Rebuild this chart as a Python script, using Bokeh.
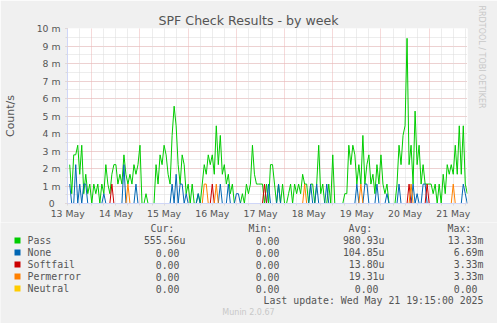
from bokeh.plotting import figure
from bokeh.models import Range1d, FixedTicker, Grid, Title
from bokeh.layouts import column
from bokeh.core.properties import value
from bokeh.embed import file_html
from bokeh.resources import INLINE

# ---------------- data (values in milli-counts per second) ----------------
# hours since 13 May 00:00
hours = list(range(13, 212))

pass_vals = [
    2.22, 0.56, 2.78, 2.78, 3.33, 1.67, 3.33, 0.56, 1.67, 0.56, 1.11, 0,
    1.11, 0.56, 1.11, 0, 1.11, 0.56, 2.22, 1.11, 0.56, 1.67, 2.22, 2.22,
    1.11, 1.67, 1.11, 2.78, 1.67, 1.11, 1.67, 1.11, 2.22, 1.67, 2.22, 3.33,
    0, 0, 0.56, 0, 0, 0, 0, 2.22, 1.11, 2.78, 2.22, 3.33,
    2.78, 1.67, 1.11, 3.89, 5.56, 4.44, 2.22, 1.11, 2.78, 2.22, 0.56, 1.11,
    0, 1.11, 0, 0, 0.56, 0, 1.11, 2.22, 1.67, 2.78, 2.22, 2.78,
    1.67, 4.44, 2.22, 3.89, 1.67, 2.22, 1.11, 1.67, 0.56, 1.11, 0, 0,
    0, 0, 0.56, 0, 1.11, 0.56, 1.11,
    3.33, 1.67, 1.11, 1.11, 1.11, 1.11, 0, 1.11, 0, 2.22, 2.22, 1.11,
    0, 1.11, 0, 1.11, 0, 0, 0.56, 1.11, 0, 1.11, 0.56, 1.11,
    0.56, 1.67, 1.11, 1.11, 0, 1.11, 1.11, 0, 1.11, 3.33, 0.56, 1.11,
    0, 0, 1.11, 0, 2.78, 0, 0, 0, 0, 0, 0.56, 0.56,
    3.33, 2.22, 3.33, 2.78, 1.11, 2.22, 1.11, 3.89, 1.11, 2.22, 2.78, 1.11,
    1.67, 0.56, 2.22, 1.11, 2.78, 1.11, 0.56, 1.11, 0, 0, 0, 0,
    1.11, 3.33, 2.22, 3.89, 4.44, 9.44, 2.22, 3.33, 1.11, 5.28, 2.22, 3.33,
    1.11, 2.22, 1.11, 1.11, 1.11, 1.11, 0.56, 1.11, 0, 1.11, 0, 1.67,
    0.56, 2.22, 1.67, 2.22, 1.67, 3.33, 1.67, 4.44, 1.67, 4.44, 1.11, 0.56,
]

none_hours = [13, 16, 18, 20, 21, 30, 40, 46, 64, 66, 68, 69, 71, 77, 88, 92,
              96, 97, 112, 117, 133, 136, 141, 156, 160, 161, 166, 171, 177,
              184, 186, 189, 190, 209, 210]
none_vals = [1.11, 2.22, 1.11, 1.11, 1.11, 0.56, 2.22, 1.11, 1.11, 1.67, 1.11,
             1.11, 0.56, 0.56, 1.11, 1.11, 0.56, 0.56, 1.11, 1.11, 1.11, 1.11,
             1.11, 1.11, 1.11, 1.11, 1.11, 0.56, 1.11, 1.11, 0.56, 1.11, 1.11,
             1.11, 0.56]

softfail_hours = [34, 84, 110, 182, 191]
softfail_vals = [1.11, 1.11, 1.11, 1.11, 1.11]

permerror_hours = [42, 80, 81, 86, 130, 158, 183, 204]
permerror_vals = [1.11, 1.11, 1.11, 1.11, 1.11, 1.11, 1.11, 1.11]

neutral_hours = []
neutral_vals = []

series_names = ["Pass", "None", "Softfail", "Permerror", "Neutral"]
series_colors = ["#00CC00", "#0066B3", "#CC0000", "#FF8000", "#FFCC00"]
cur_vals = ["555.56u", "0.00", "0.00", "0.00", "0.00"]
min_vals = ["0.00", "0.00", "0.00", "0.00", "0.00"]
avg_vals = ["980.93u", "104.85u", "13.80u", "19.31u", "0.00"]
max_vals = ["13.33m", "6.69m", "3.33m", "3.33m", "0.00"]
col_heads = ["Cur:", "Min:", "Avg:", "Max:"]

day_labels = ["13 May", "14 May", "15 May", "16 May", "17 May", "18 May",
              "19 May", "20 May", "21 May"]
y_labels = ["0\u00a0\u00a0", "1 m", "2 m", "3 m", "4 m", "5 m", "6 m", "7 m",
            "8 m", "9 m", "10 m"]

title = "SPF Check Results - by week"
y_title = "Count/s"
last_update = "Last update: Wed May 21 19:15:00 2025"
munin_ver = "Munin 2.0.67"
watermark = "RRDTOOL / TOBI OETIKER"


def full_series(hs, vs):
    d = dict(zip(hs, vs))
    return [d.get(h, 0.0) for h in hours]


all_series = [pass_vals,
              full_series(none_hours, none_vals),
              full_series(softfail_hours, softfail_vals),
              full_series(permerror_hours, permerror_vals),
              full_series(neutral_hours, neutral_vals)]

# ---------------- styles ----------------
TXT = "#555555"
AXC = "#CFD6F8"
MGRID = "#EDB5B5"
GRID = "#DADADA"
BG = "#F0F0F0"
W = 497
H1 = 222
FL, FT, FW, FH = 67, 28, 400, 175

# ---------------- main chart ----------------
p = figure(width=W, height=H1, output_backend="svg", toolbar_location=None,
           x_range=Range1d(11.9, 211.1), y_range=Range1d(0, 10),
           min_border_left=FL, min_border_right=W - FL - FW,
           min_border_top=FT, min_border_bottom=H1 - FT - FH)
p.frame_align = False
p.background_fill_color = "#FFFFFF"
p.border_fill_color = BG
p.outline_line_color = None

p.title.text = title
p.title.text_font = "DejaVu Sans"
p.title.text_font_size = "12.6px"
p.title.text_font_style = "normal"
p.title.text_color = TXT
p.title.align = "left"
p.title.offset = 91
p.title.standoff = 2

p.add_layout(Title(text=watermark, text_font="DejaVu Sans", text_font_size="8px",
                   text_font_style="normal", text_color="#C8C8C8",
                   align="left", offset=-23, standoff=19), "right")

# y axis
p.yaxis.ticker = FixedTicker(ticks=list(range(0, 11)),
                             minor_ticks=[i * 0.5 for i in range(21)])
p.yaxis.major_label_overrides = {i: y_labels[i] for i in range(11)}
p.yaxis.major_label_text_font = "DejaVu Sans"
p.yaxis.major_label_text_font_size = "9.3px"
p.yaxis.major_label_text_color = TXT
p.yaxis.major_tick_out = 2
p.yaxis.major_tick_in = 0
p.yaxis.minor_tick_out = 2
p.yaxis.minor_tick_in = 0
p.yaxis.major_tick_line_color = MGRID
p.yaxis.minor_tick_line_color = GRID
p.yaxis.major_label_standoff = 5
p.yaxis.axis_line_color = AXC
p.yaxis.axis_label = y_title
p.yaxis.axis_label_text_font = "DejaVu Sans"
p.yaxis.axis_label_text_font_size = "11px"
p.yaxis.axis_label_text_font_style = "normal"
p.yaxis.axis_label_text_color = TXT
p.yaxis.axis_label_standoff = 17

p.ygrid.grid_line_color = MGRID
p.ygrid.grid_line_dash = "1 1"
p.ygrid.minor_grid_line_color = GRID
p.ygrid.minor_grid_line_dash = "1 1"

# x axis: labels centred at noon, grid at midnight (major) and every 6 h (minor)
noons = [12 + 24 * i for i in range(len(day_labels))]
midnights = [24 * i for i in range(1, 9)]
six_h = [6 * i for i in range(2, 36) if (6 * i) % 24 != 0]
p.xaxis.ticker = FixedTicker(ticks=noons, minor_ticks=midnights + six_h)
p.xaxis.major_label_overrides = {noons[i]: day_labels[i] for i in range(len(noons))}
p.xaxis.major_label_text_font = "DejaVu Sans"
p.xaxis.major_label_text_font_size = "9.3px"
p.xaxis.major_label_text_color = TXT
p.xaxis.major_tick_out = 0
p.xaxis.major_tick_in = 0
p.xaxis.minor_tick_out = 2
p.xaxis.minor_tick_in = 0
p.xaxis.minor_tick_line_color = GRID
p.xaxis.major_label_standoff = 2
p.xaxis.axis_line_color = AXC
p.xgrid.visible = False

p.add_layout(Grid(dimension=0, ticker=FixedTicker(ticks=six_h),
                  grid_line_color=GRID, grid_line_dash="1 1"))
p.add_layout(Grid(dimension=0, ticker=FixedTicker(ticks=midnights),
                  grid_line_color=MGRID, grid_line_dash="1 1"))

for vals, col in zip(all_series, series_colors):
    p.line(hours, vals, line_color=col, line_width=1)

# ---------------- legend / footer strip (pixel coordinates) ----------------
H2 = 323 - H1
lg = figure(width=W, height=H2, output_backend="svg", toolbar_location=None,
            x_range=Range1d(0, W), y_range=Range1d(323, H1),
            x_axis_location=None, y_axis_location=None,
            min_border=0, min_border_left=0, min_border_right=0,
            min_border_top=0, min_border_bottom=0)
lg.frame_align = False
lg.background_fill_color = BG
lg.border_fill_color = BG
lg.outline_line_color = None
lg.grid.visible = False

MONO = value("DejaVu Sans Mono")
LS = value("9.9px")
row_y = [240 + 12 * i for i in range(len(series_names))]

lg.text(x=[150, 248, 348, 447], y=[228] * 4, text=col_heads, text_font=MONO,
        text_font_size=LS, text_color=TXT, text_align="left", text_baseline="middle")
lg.rect(x=[17] * len(series_names), y=row_y, width=6, height=6,
        fill_color=series_colors, line_color=None)
lg.text(x=[27] * len(series_names), y=row_y, text=series_names, text_font=MONO,
        text_font_size=LS, text_color=TXT, text_align="left", text_baseline="middle")


def rx(s, right):
    return right if s[-1].isalpha() else right - 6


for vals, right in ((cur_vals, 185), (min_vals, 285), (avg_vals, 384), (max_vals, 483)):
    lg.text(x=[rx(s, right) for s in vals], y=row_y, text=vals, text_font=MONO,
            text_font_size=LS, text_color=TXT, text_align="right",
            text_baseline="middle")

lg.text(x=[483], y=[300], text=[last_update], text_font=MONO, text_font_size=LS,
        text_color=TXT, text_align="right", text_baseline="middle")
lg.text(x=[248], y=[312], text=[munin_ver], text_font=value("DejaVu Sans"),
        text_font_size=value("8px"), text_color="#C8C8C8", text_align="center",
        text_baseline="middle")

layout = column(p, lg, spacing=0)
open("out.html", "w").write(file_html(layout, INLINE))
